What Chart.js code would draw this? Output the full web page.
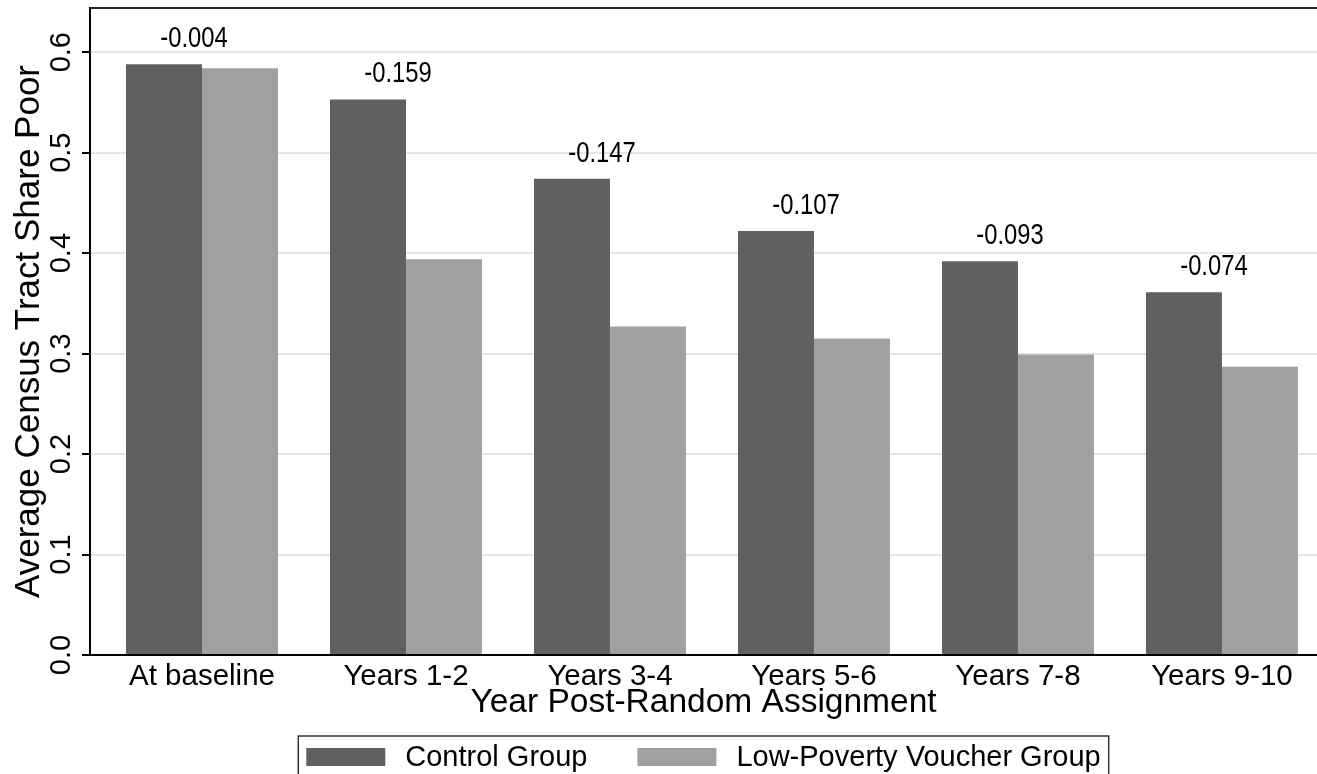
<!DOCTYPE html>
<html>
<head>
<meta charset="utf-8">
<title>Average Census Tract Share Poor</title>
<script src="https://cdn.jsdelivr.net/npm/chart.js@4.4.1/dist/chart.umd.min.js"></script>
<style>
  html, body { margin: 0; padding: 0; background: #fff; overflow: hidden; }
  #wrap { width: 1317px; height: 774px; }
</style>
</head>
<body>
<div id="wrap"><canvas id="chartSharePoor" width="1317" height="774"></canvas></div>
<script>
// data
const categories = ['At baseline', 'Years 1-2', 'Years 3-4', 'Years 5-6', 'Years 7-8', 'Years 9-10'];
const controlGroup = [0.588, 0.553, 0.474, 0.422, 0.392, 0.361];
const voucherGroup = [0.584, 0.394, 0.327, 0.315, 0.299, 0.287];
const differences = [-0.004, -0.159, -0.147, -0.107, -0.093, -0.074];
const yTicks = [0, 0.1, 0.2, 0.3, 0.4, 0.5, 0.6];

const DARK = '#606060';
const LIGHT = '#a0a0a0';
const FONT = '"Liberation Sans", Arial, sans-serif';

// labels above the control bars + frame line on top
const diffLabels = {
    id: 'diffLabels',
    afterDatasetsDraw(chart) {
        const { ctx, chartArea, scales: { x, y } } = chart;
        ctx.save();
        ctx.fillStyle = '#000';
        ctx.font = '29px ' + FONT;
        ctx.textAlign = 'center';
        ctx.textBaseline = 'middle';
        differences.forEach((d, i) => {
            // narrow look of the original labels
            ctx.save();
            ctx.translate(x.getPixelForValue(i) - 8, y.getPixelForValue(controlGroup[i]) - 25);
            ctx.scale(0.82, 1);
            ctx.fillText(d.toFixed(3), 0, 0);
            ctx.restore();
        });
        ctx.strokeStyle = '#222';
        ctx.lineWidth = 2;
        ctx.beginPath();
        ctx.moveTo(chartArea.left, chartArea.top);
        ctx.lineTo(chartArea.right, chartArea.top);
        ctx.stroke();
        ctx.restore();
    }
};

// Stata style boxed legend under the axis title
const boxLegend = {
    id: 'boxLegend',
    afterDraw(chart) {
        const { ctx, chartArea } = chart;
        const items = chart.data.datasets.map(ds => ({ text: ds.label, color: ds.backgroundColor }));
        const swW = 79, swH = 18, gap = 20, itemGap = 50;
        ctx.save();
        ctx.font = '29px ' + FONT;
        const widths = items.map(it => swW + gap + ctx.measureText(it.text).width);
        const total = widths.reduce((a, b) => a + b, 0) + itemGap * (items.length - 1);
        let xPos = (chartArea.left + chartArea.right) / 2 - total / 2;
        const top = 736;
        ctx.strokeStyle = '#333';
        ctx.lineWidth = 1.5;
        ctx.strokeRect(xPos - 8, top, total + 16, 60);
        ctx.textBaseline = 'middle';
        ctx.textAlign = 'left';
        items.forEach((it, i) => {
            ctx.fillStyle = it.color;
            ctx.fillRect(xPos, top + 12, swW, swH);
            ctx.fillStyle = '#000';
            ctx.fillText(it.text, xPos + swW + gap, top + 22);
            xPos += widths[i] + itemGap;
        });
        ctx.restore();
    }
};

new Chart(document.getElementById('chartSharePoor'), {
    type: 'bar',
    data: {
        datasets: [
            {
                label: 'Control Group',
                data: controlGroup.map((v, i) => ({ x: i, y: v })),
                backgroundColor: DARK
            },
            {
                label: 'Low-Poverty Voucher Group',
                data: voucherGroup.map((v, i) => ({ x: i, y: v })),
                backgroundColor: LIGHT
            }
        ]
    },
    options: {
        responsive: false,
        animation: false,
        categoryPercentage: 0.745,
        barPercentage: 1.0,
        layout: { padding: { top: 8, right: 0, left: 0, bottom: 38 } },
        plugins: {
            legend: { display: false },
            tooltip: { enabled: false }
        },
        scales: {
            x: {
                type: 'linear',
                offset: false,
                min: -0.549,
                max: 5.466,
                afterBuildTicks: scale => { scale.ticks = categories.map((c, i) => ({ value: i })); },
                afterFit: scale => { scale.height = 81; scale.paddingLeft = 0; scale.paddingRight = 0; },
                grid: { display: false, drawTicks: false, offset: false },
                border: { display: true, color: '#000', width: 2 },
                ticks: {
                    padding: 4,
                    color: '#000',
                    maxRotation: 0,
                    autoSkip: false,
                    font: { family: FONT, size: 29.5 },
                    callback: v => categories[v] ?? ''
                },
                title: {
                    display: true,
                    text: 'Year Post-Random Assignment',
                    color: '#000',
                    font: { family: FONT, size: 33.5 },
                    padding: { top: 0, bottom: 13 }
                }
            },
            y: {
                min: 0,
                max: 0.644,
                afterBuildTicks: scale => { scale.ticks = yTicks.map(v => ({ value: v })); },
                afterFit: scale => { scale.width = 90; scale.paddingTop = 0; scale.paddingBottom = 0; },
                grid: { color: '#e6e6e6', lineWidth: 2, tickColor: '#000', tickWidth: 2, tickLength: 8 },
                border: { display: true, color: '#000', width: 2 },
                ticks: {
                    padding: 0,
                    color: '#000',
                    minRotation: 90,
                    maxRotation: 90,
                    crossAlign: 'center',
                    font: { family: FONT, size: 29 },
                    callback: v => v.toFixed(1)
                },
                title: {
                    display: true,
                    text: 'Average Census Tract Share Poor',
                    color: '#000',
                    font: { family: FONT, size: 35 },
                    padding: { top: 8, bottom: 0 }
                }
            }
        }
    },
    plugins: [diffLabels, boxLegend]
});
</script>
</body>
</html>
